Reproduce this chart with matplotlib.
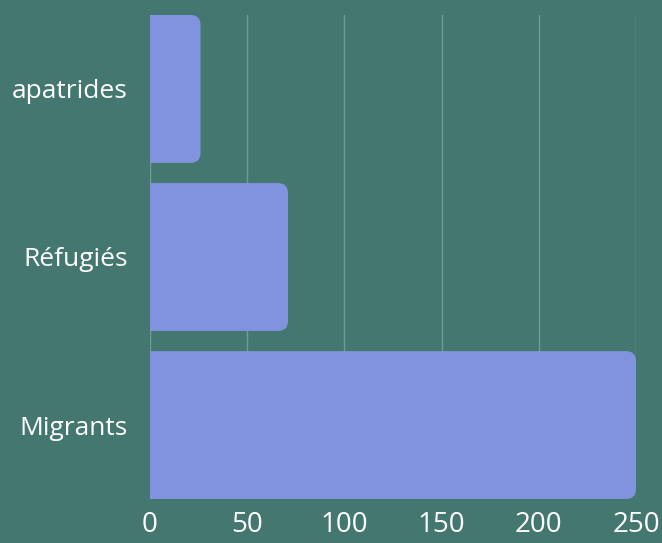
import matplotlib
matplotlib.use("Agg")
import matplotlib.pyplot as plt
from matplotlib.path import Path
from matplotlib.patches import PathPatch

categories = ["apatrides", "Réfugiés", "Migrants"]
values = [26, 71, 250]
xticks = [0, 50, 100, 150, 200, 250]

bg = "#437770"
bar_color = "#8193DF"
grid_color = "#6f9c95"

plt.rcParams["font.family"] = ["Open Sans", "DejaVu Sans"]

fig = plt.figure(figsize=(6.62, 5.43), dpi=100, facecolor=bg)
ax = fig.add_axes([150 / 662, 1 - 499 / 543, 486 / 662, 484 / 543])
ax.set_facecolor(bg)

h = 0.88
ax.set_xlim(0, 250)
ax.set_ylim(len(categories) - 1 + h / 2, -h / 2)


def rounded_bar(ax, y, w, h, r_px=10):
    # right corners rounded, left edge square
    p0 = ax.transData.transform((0, 0))
    p1 = ax.transData.transform((1, 1))
    rx = r_px / abs(p1[0] - p0[0])
    ry = r_px / abs(p1[1] - p0[1])
    y0, y1 = y - h / 2, y + h / 2
    verts = [(0, y0), (w - rx, y0), (w, y0), (w, y0 + ry),
             (w, y1 - ry), (w, y1), (w - rx, y1), (0, y1), (0, y0)]
    codes = [Path.MOVETO, Path.LINETO, Path.CURVE3, Path.CURVE3,
             Path.LINETO, Path.CURVE3, Path.CURVE3, Path.LINETO, Path.CLOSEPOLY]
    ax.add_patch(PathPatch(Path(verts, codes), facecolor=bar_color,
                           edgecolor="none", zorder=3))


for i, v in enumerate(values):
    rounded_bar(ax, i, v, h)

for x in xticks:
    ax.axvline(x, color=grid_color, linewidth=1, zorder=1)

ax.set_xticks(xticks)
ax.set_yticks(range(len(categories)))
ax.set_yticklabels(categories)
ax.tick_params(axis="x", length=0, pad=9, labelsize=20, colors="white")
ax.tick_params(axis="y", length=0, pad=16, labelsize=19, colors="white")
for s in ax.spines.values():
    s.set_visible(False)

fig.savefig("out.png", dpi=100, facecolor=bg)
